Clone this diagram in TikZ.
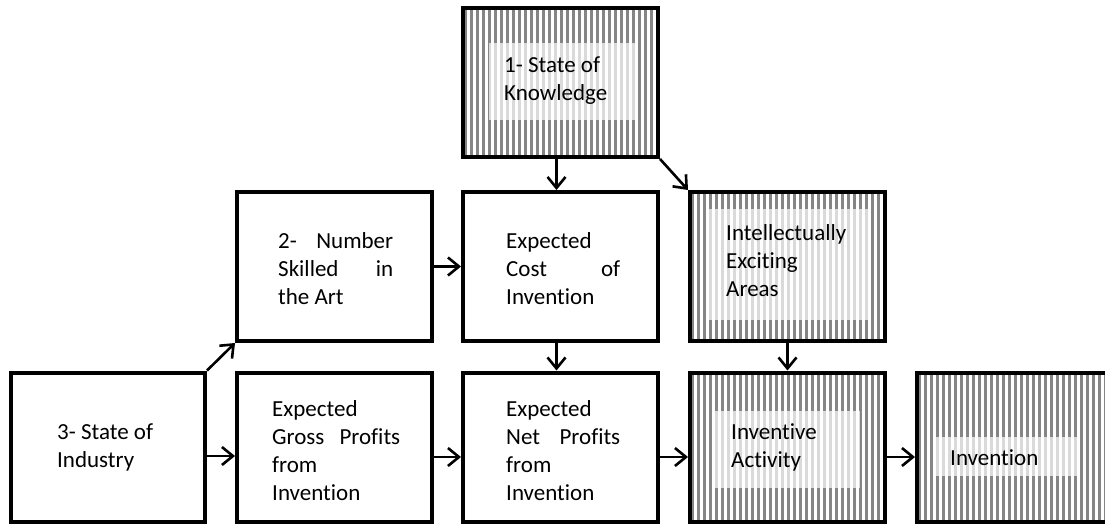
\documentclass[tikz,border=0pt]{standalone}
\usepackage{fontspec}
\setmainfont{Carlito}[Ligatures={NoCommon}]
\usetikzlibrary{arrows.meta}
\definecolor{stripecol}{HTML}{858585}
\newcommand{\jline}[2]{\makebox[#1][s]{#2}}
\begin{document}
\begin{tikzpicture}[x=1pt,y=-1pt,
  box/.style={draw=black, line width=4pt, minimum width=195pt, minimum height=149pt, inner sep=0pt},
  hatched/.style={box, path picture={
      \foreach \i in {0,...,34}{
        \fill[stripecol] ([xshift={\i*6pt+1pt}, yshift=5pt]path picture bounding box.north west) rectangle ++(3.2pt,-170pt);}}},
  innerbg/.style={fill=white, fill opacity=0.7, inner sep=0pt},
  txt/.style={anchor=west, align=left, inner sep=0pt, font=\fontsize{23}{28}\selectfont},
  arr/.style={line width=2.6pt, -{Straight Barb[length=11pt,width=18pt,line width=2.6pt]}}
]
\useasboundingbox (0,0) rectangle (1105,524);
\clip (0,0) rectangle (1105,524);
\fill[white] (0,0) rectangle (1105,524);

% 1- State of Knowledge
\node[hatched] (k) at (560.5,82.5) {};
\node[innerbg, minimum width=146pt, minimum height=77pt] (kbg) at (562,81.5) {};
\node[txt] (kt) at (504,80.5) {1- State of\\Knowledge};

% 2- Number Skilled in the Art
\node[box] (b2) at (334.5,266.5) {};
\node[txt] (b2t) at (278,269) {\jline{115pt}{2- Number}\\\jline{115pt}{Skilled in}\\the Art};

% Expected Cost of Invention
\node[box] (c) at (560.5,266.5) {};
\node[txt] (ct) at (506,269) {Expected\\\jline{114pt}{Cost of}\\Invention};

% Intellectually Exciting Areas
\node[hatched] (ie) at (787.5,266.5) {};
\node[innerbg, minimum width=159pt, minimum height=111pt] (iebg) at (788.5,264.5) {};
\node[txt] (iet) at (726,260.5) {Intellectually\\Exciting\\Areas};

% 3- State of Industry
\node[box, minimum width=194pt] (b3) at (108,447) {};
\node[txt] (b3t) at (57,447.5) {3- State of\\Industry};

% Expected Gross Profits from Invention
\node[box] (g) at (334.5,447) {};
\node[txt] (gt) at (272,451) {Expected\\\jline{128pt}{Gross Profits}\\from\\Invention};

% Expected Net Profits from Invention
\node[box] (n) at (560.5,447) {};
\node[txt] (nt) at (506,451) {Expected\\\jline{114pt}{Net Profits}\\from\\Invention};

% Inventive Activity
\node[hatched] (ia) at (787.5,447) {};
\node[innerbg, minimum width=147pt, minimum height=77pt] (iabg) at (786.5,449.5) {};
\node[txt] (iat) at (731,447.5) {Inventive\\Activity};

% Invention
\node[hatched] (iv) at (1014.5,447) {};
\node[innerbg, minimum width=146pt, minimum height=39pt] (ivbg) at (1007,456.5) {};
\node[txt] (ivt) at (950,458) {Invention};

% connectors
\draw[arr] ([xshift=-4pt]k.south) -- ([xshift=-4pt]c.north);
\draw[arr] (k.south east) -- (ie.north west);
\draw[arr] (b2.east) -- (c.west);
\draw[arr] (b3.north east) -- (b2.south west);
\draw[arr] ([yshift=-9pt]b3.east) -- ([yshift=-9pt]g.west);
\draw[arr] ([yshift=-10pt]g.east) -- ([yshift=-10pt]n.west);
\draw[arr] ([xshift=-4pt]c.south) -- ([xshift=-4pt]n.north);
\draw[arr] (ie.south) -- (ia.north);
\draw[arr] ([yshift=-10pt]n.east) -- ([yshift=-10pt]ia.west);
\draw[arr] ([yshift=-10pt]ia.east) -- ([yshift=-10pt]iv.west);
\end{tikzpicture}
\end{document}
